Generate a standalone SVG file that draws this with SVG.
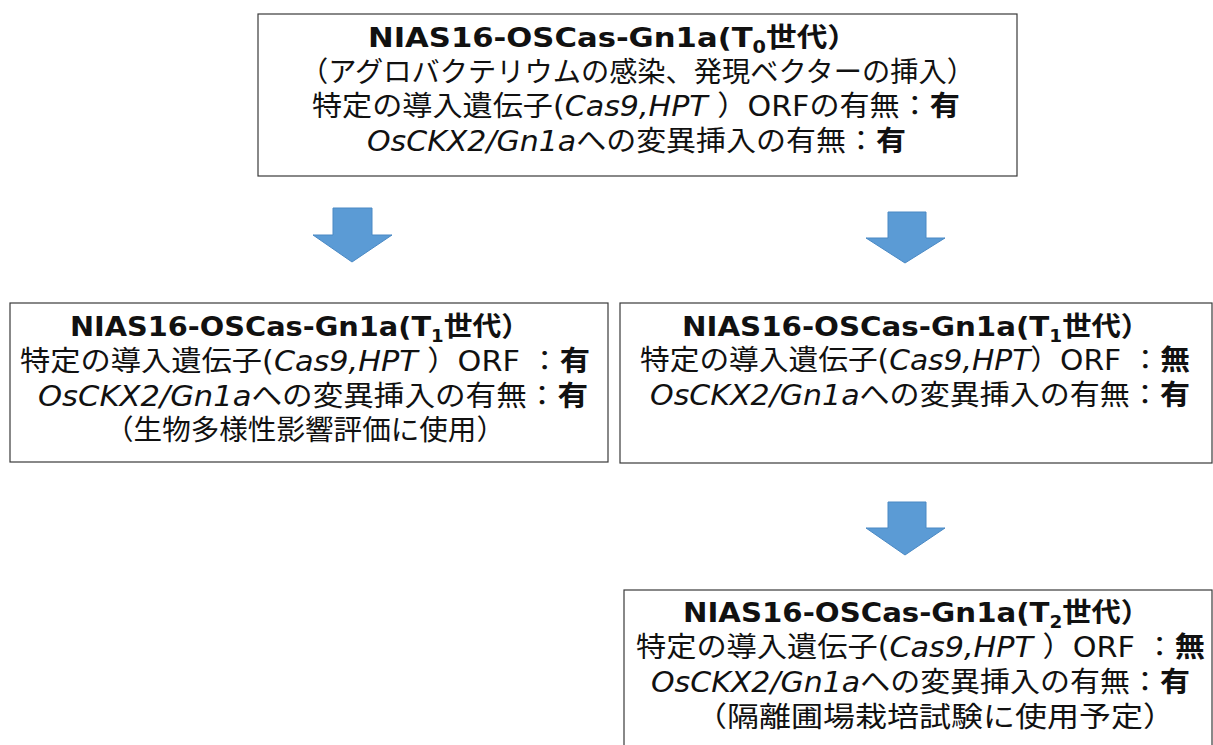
<svg xmlns="http://www.w3.org/2000/svg" width="1213" height="745" viewBox="0 0 1213 745">
<style>
.box{fill:#fff;stroke:#3a3a3a;stroke-width:1.2}
.t{font-family:"DejaVu Sans","Noto Sans CJK JP",sans-serif;font-size:28px;fill:#111}
.h{font-size:27px}
.b{font-weight:bold}
.i{font-style:italic}
.sub{font-size:17px}
.arrow{fill:#5b9bd5;stroke:#4a89c4;stroke-width:1}
</style>
<rect width="1213" height="745" fill="#fff"/>
<g id="connectors">
<polygon class="arrow" points="333,208 372,208 372,235 392,235 352,262 313,235 333,235"/>
<polygon class="arrow" points="888,212 926,212 926,238 945,238 905,263 866,238 888,238"/>
<polygon class="arrow" points="888,502 926,502 926,528 945,528 905,555 866,528 888,528"/>
</g>
<g id="node-t0">
<rect class="box" x="258" y="14" width="759" height="162"/>
<text class="t h b" x="368" y="47" textLength="490" lengthAdjust="spacingAndGlyphs">NIAS16-OSCas-Gn1a(T<tspan class="sub" dy="6">0</tspan><tspan dy="-6">世代）</tspan></text>
<text class="t" x="300" y="82" textLength="675" lengthAdjust="spacingAndGlyphs">（アグロバクテリウムの感染、発現ベクターの挿入）</text>
<text class="t" x="312" y="116" textLength="648" lengthAdjust="spacingAndGlyphs">特定の導入遺伝子(<tspan class="i">Cas9,HPT</tspan> ）ORFの有無：<tspan class="b">有</tspan></text>
<text class="t" x="367" y="151" textLength="539" lengthAdjust="spacingAndGlyphs"><tspan class="i">OsCKX2/Gn1a</tspan>への変異挿入の有無：<tspan class="b">有</tspan></text>
</g>
<g id="node-t1-left">
<rect class="box" x="10" y="303" width="598" height="159"/>
<text class="t h b" x="70" y="336" textLength="460" lengthAdjust="spacingAndGlyphs">NIAS16-OSCas-Gn1a(T<tspan class="sub" dy="6">1</tspan><tspan dy="-6">世代）</tspan></text>
<text class="t" x="20" y="371" textLength="570" lengthAdjust="spacingAndGlyphs">特定の導入遺伝子(<tspan class="i">Cas9,HPT</tspan> ）ORF ：<tspan class="b">有</tspan></text>
<text class="t" x="38" y="406" textLength="550" lengthAdjust="spacingAndGlyphs"><tspan class="i">OsCKX2/Gn1a</tspan>への変異挿入の有無：<tspan class="b">有</tspan></text>
<text class="t" x="105" y="440" textLength="400" lengthAdjust="spacingAndGlyphs">（生物多様性影響評価に使用）</text>
</g>
<g id="node-t1-right">
<rect class="box" x="620" y="303" width="592" height="160"/>
<text class="t h b" x="682" y="336" textLength="468" lengthAdjust="spacingAndGlyphs">NIAS16-OSCas-Gn1a(T<tspan class="sub" dy="6">1</tspan><tspan dy="-6">世代）</tspan></text>
<text class="t" x="640" y="370" textLength="550" lengthAdjust="spacingAndGlyphs">特定の導入遺伝子(<tspan class="i">Cas9,HPT</tspan>）ORF ：<tspan class="b">無</tspan></text>
<text class="t" x="650" y="405" textLength="540" lengthAdjust="spacingAndGlyphs"><tspan class="i">OsCKX2/Gn1a</tspan>への変異挿入の有無：<tspan class="b">有</tspan></text>
</g>
<g id="node-t2">
<rect class="box" x="624" y="590" width="588" height="170"/>
<text class="t h b" x="683" y="622" textLength="467" lengthAdjust="spacingAndGlyphs">NIAS16-OSCas-Gn1a(T<tspan class="sub" dy="6">2</tspan><tspan dy="-6">世代）</tspan></text>
<text class="t" x="636" y="657" textLength="569" lengthAdjust="spacingAndGlyphs">特定の導入遺伝子(<tspan class="i">Cas9,HPT</tspan> ）ORF ：<tspan class="b">無</tspan></text>
<text class="t" x="651" y="692" textLength="539" lengthAdjust="spacingAndGlyphs"><tspan class="i">OsCKX2/Gn1a</tspan>への変異挿入の有無：<tspan class="b">有</tspan></text>
<text class="t" x="695" y="727" textLength="480" lengthAdjust="spacingAndGlyphs">（隔離圃場栽培試験に使用予定）</text>
</g>
</svg>
